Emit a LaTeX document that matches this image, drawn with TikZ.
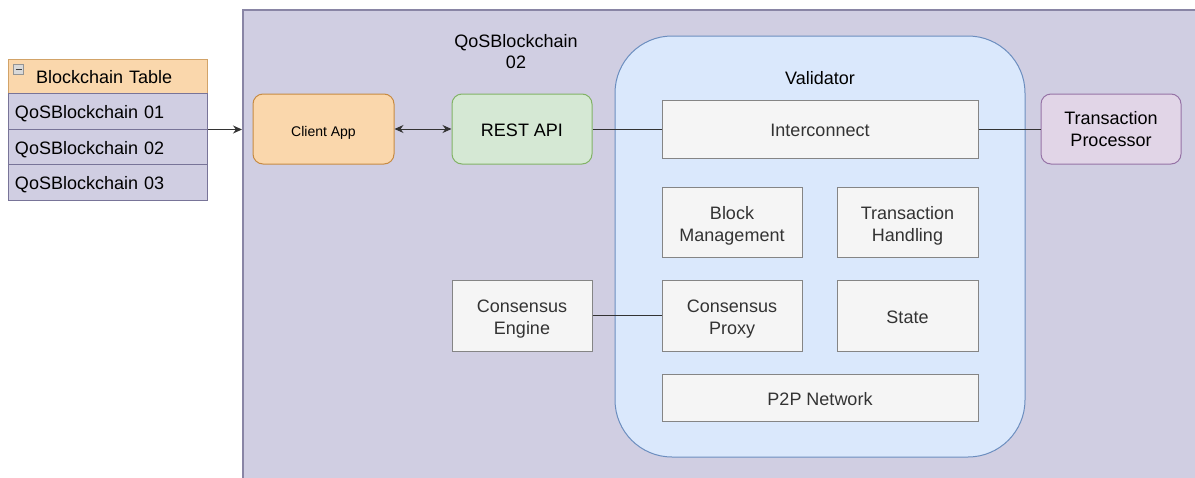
\documentclass[tikz,border=0pt]{standalone}
\usepackage{fontspec}
\setmainfont{Liberation Sans}
\usetikzlibrary{arrows.meta}
\definecolor{purpfill}{HTML}{D0CEE2}
\definecolor{purpline}{HTML}{56517E}
\definecolor{orfill}{HTML}{FAD7AC}
\definecolor{orline}{HTML}{B46504}
\definecolor{grfill}{HTML}{D5E8D4}
\definecolor{grline}{HTML}{82B366}
\definecolor{blfill}{HTML}{DAE8FC}
\definecolor{blline}{HTML}{6C8EBF}
\definecolor{gyfill}{HTML}{F5F5F5}
\definecolor{gyline}{HTML}{666666}
\definecolor{gytext}{HTML}{333333}
\definecolor{vifill}{HTML}{E1D5E7}
\definecolor{viline}{HTML}{9673A6}
% fixed line box so every text line sits the same way in its box
\newcommand{\tstrut}{\rule[-3pt]{0pt}{21pt}}
\tikzset{
  base/.style={line width=1pt, inner sep=0pt, align=center,
    font=\fontsize{18}{22}\selectfont},
  txt/.style={execute at begin node=\tstrut, execute at end node=\tstrut},
  tblhead/.style={base, txt, fill=orfill, draw=orline!60, minimum width=199pt, minimum height=34pt,
    text width=185pt, align=left},
  tblrow/.style={base, txt, fill=purpfill, draw=purpline!80, minimum width=199pt, minimum height=36pt,
    text width=185pt, align=left},
  orbox/.style={base, txt, fill=orfill, draw=orline!75, rounded corners=10pt,
    minimum width=141pt, minimum height=70pt, font=\fontsize{14}{17}\selectfont},
  grbox/.style={base, txt, fill=grfill, draw=grline, rounded corners=10pt,
    minimum width=140pt, minimum height=70pt},
  vibox/.style={base, txt, fill=vifill, draw=viline, rounded corners=10pt,
    minimum width=140pt, minimum height=70pt},
  gybox/.style={base, txt, fill=gyfill, draw=gyline!80, text=gytext,
    minimum width=140pt, minimum height=70pt},
  % two-line captions, set a little lower than TikZ would centre them
  gylbl/.style={base, txt, text=gytext, yshift=-3.5pt},
  vilbl/.style={base, txt, text=black, yshift=-1.5pt},
  link/.style={line width=1pt, draw=black!80},
  arr/.style={link, -{Stealth[length=9pt,width=8pt]}},
  darr/.style={link, {Stealth[length=9pt,width=8pt]}-{Stealth[length=9pt,width=8pt]}}
}
\begin{document}
\begin{tikzpicture}[x=1pt, y=-1pt]
\useasboundingbox (0,0) rectangle (1195,477);

% outer chain container
\node[base, fill=purpfill, draw=purpline!70, line width=1.5pt, anchor=north west,
  minimum width=1000pt, minimum height=520pt] (chain) at (242,9) {};

% blockchain table
\node[tblhead] (thead) at (107.5,76) {\hspace*{21pt}Blockchain Table};
\node[base, draw=gyline!70, fill=black!15, minimum width=10pt, minimum height=10pt] (tmin) at (18.5,69.5) {};
\draw[line width=1.2pt, black!75] ([xshift=2.5pt]tmin.west) -- ([xshift=-2.5pt]tmin.east);
\node[tblrow] (r1) at (107.5,111) {QoSBlockchain 01};
\node[tblrow] (r2) at (107.5,147) {QoSBlockchain 02};
\node[tblrow] (r3) at (107.5,182) {QoSBlockchain 03};

% chain title
\node[base, txt, font=\fontsize{18}{21}\selectfont] (title) at (516,53) {QoSBlockchain\\02};

% validator
\node[base, fill=blfill, draw=blline, rounded corners=57pt,
  minimum width=410pt, minimum height=421pt] (validator) at (820,246.5) {};
\node[base, txt] (vlabel) at (820,77) {Validator};

% components
\node[orbox] (client) at (323.5,129) {Client App};
\node[grbox] (rest) at (522,129) {REST API};
\node[gybox, minimum width=316pt, minimum height=58pt] (inter) at (820,129) {Interconnect};
\node[vibox, label={[vilbl]center:{Transaction\\Processor}}] (tp) at (1111,129) {};
\node[gybox, label={[gylbl]center:{Block\\Management}}] (block) at (732,222) {};
\node[gybox, minimum width=141pt, label={[gylbl]center:{Transaction\\Handling}}] (txh) at (907.5,222) {};
\node[gybox, minimum height=71pt, label={[gylbl]center:{Consensus\\Engine}}] (ceng) at (522,315.5) {};
\node[gybox, minimum height=71pt, label={[gylbl]center:{Consensus\\Proxy}}] (cprox) at (732,315.5) {};
\node[gybox, minimum width=141pt, minimum height=71pt] (state) at (907.5,315.5) {State};
\node[gybox, minimum width=316pt, minimum height=47pt] (p2p) at (820,397.5) {P2P Network};

% connectors
\draw[arr] (r1.south east) -- (r1.south east -| chain.west);
\draw[darr] (client) -- (rest);
\draw[link] (rest) -- (inter);
\draw[link] (inter) -- (tp);
\draw[link] (ceng) -- (cprox);
\end{tikzpicture}
\end{document}
